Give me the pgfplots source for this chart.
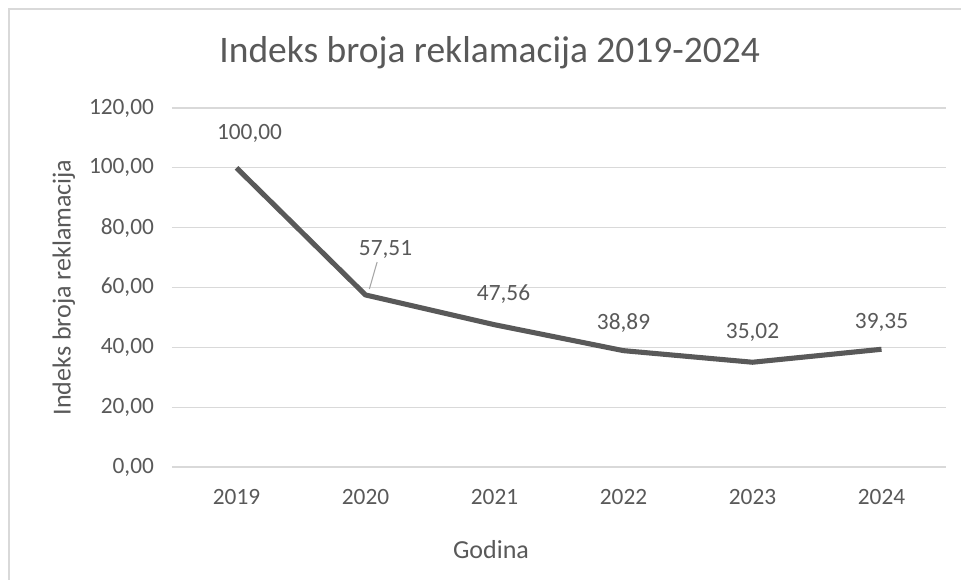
\documentclass[border=0pt]{standalone}
\usepackage{pgfplots}
\pgfplotsset{compat=1.18}
\usepackage{pgfplotstable}
\usepackage{fontspec}
\setmainfont{Carlito}
\definecolor{txtc}{HTML}{595959}
\definecolor{gridc}{HTML}{D9D9D9}
\definecolor{lnc}{HTML}{595959}
\pgfplotstableread{
x y dx dy
0 100.00 9.75 25.5
1 57.51 15 33.75
2 47.56 6.75 23.25
3 38.89 0 21
4 35.02 0 22.5
5 39.35 0 20.25
}\data
\begin{document}
\begin{tikzpicture}
\path[use as bounding box] (0pt,0pt) rectangle (720.75pt,434.25pt);
\fill[white] (0pt,0pt) rectangle (720.75pt,434.25pt);
\draw[gridc, line width=1.2pt] (6.75pt,-20pt) rectangle (750pt,427.5pt);
\begin{axis}[
  at={(129pt,84pt)}, anchor=south west,
  scale only axis, width=580.5pt, height=269.25pt,
  xmin=-0.5, xmax=5.5, ymin=0, ymax=120,
  xtick={0,...,5}, xticklabels={2019,2020,2021,2022,2023,2024},
  ytick={0,20,...,120},
  axis line style={draw=none},
  tick style={draw=none},
  ymajorgrids, grid style={gridc, line width=0.9pt},
  ticklabel style={font=\fontsize{17.5pt}{20pt}\selectfont, text=txtc},
  yticklabel style={xshift=-10pt},
  xticklabel style={yshift=-13pt},
  yticklabel={\pgfmathprintnumber[fixed,fixed zerofill,precision=2,use comma,assume math mode=true]{\tick}},
  title={Indeks broja reklamacija 2019-2024},
  title style={font=\fontsize{28.1pt}{32pt}\selectfont, text=txtc, yshift=20pt, xshift=-52pt},
  xlabel={Godina}, ylabel={Indeks broja reklamacija},
  label style={font=\fontsize{19.5pt}{22pt}\selectfont, text=txtc},
  xlabel style={yshift=-20pt, xshift=-51pt},
  ylabel style={yshift=3.5pt},
  clip=false,
]
\addplot[lnc, line width=3.8pt, line join=round,
  nodes near coords={\pgfmathprintnumber[fixed,fixed zerofill,precision=2,use comma,assume math mode=true]{\pgfplotspointmeta}},
  point meta=explicit,
  visualization depends on={\thisrow{dx} \as \dx},
  visualization depends on={\thisrow{dy} \as \dy},
  every node near coord/.append style={anchor=center, xshift=\dx pt, yshift=\dy pt,
    font=\fontsize{17.5pt}{20pt}\selectfont, text=txtc},
] table[x=x, y=y, meta=y] {\data};
\draw[gray!70, line width=0.8pt] (axis cs:1.03,59.5) -- (axis cs:1.09,68.5);
\end{axis}
\end{tikzpicture}
\end{document}
